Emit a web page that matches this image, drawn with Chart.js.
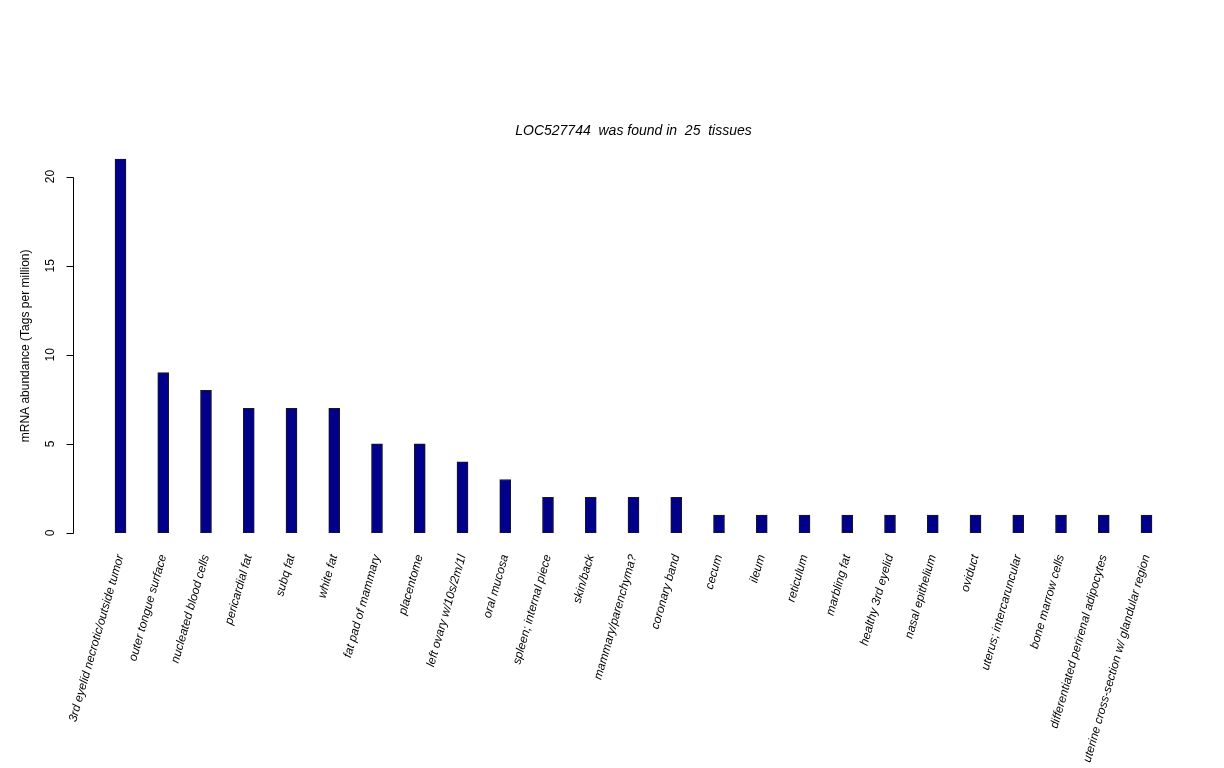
<!DOCTYPE html>
<html>
<head>
<meta charset="utf-8">
<script src="https://cdn.jsdelivr.net/npm/chart.js@4/dist/chart.umd.min.js"></script>
<style>
  html, body { margin: 0; padding: 0; background: #ffffff; }
  #wrap { width: 1224px; height: 768px; }
</style>
</head>
<body>
<div id="wrap"><canvas id="c" width="1224" height="768"></canvas></div>
<script>
// Tissues and tag counts for LOC527744
const tissues = [
  "3rd eyelid necrotic/outside tumor",
  "outer tongue surface",
  "nucleated blood cells",
  "pericardial fat",
  "subq fat",
  "white fat",
  "fat pad of mammary",
  "placentome",
  "left ovary w/10s/2m/1l",
  "oral mucosa",
  "spleen; internal piece",
  "skin/back",
  "mammary/parenchyma?",
  "coronary band",
  "cecum",
  "ileum",
  "reticulum",
  "marbling fat",
  "healthy 3rd eyelid",
  "nasal epithelium",
  "oviduct",
  "uterus; intercaruncular",
  "bone marrow cells",
  "differentiated perirenal adipocytes",
  "uterine cross-section w/ glandular region"
];
const abundance = [21, 9, 8, 7, 7, 7, 5, 5, 4, 3, 2, 2, 2, 2, 1, 1, 1, 1, 1, 1, 1, 1, 1, 1, 1];
const yTickValues = [0, 5, 10, 15, 20];
const titleText = "LOC527744  was found in  25  tissues";
const yTitle = "mRNA abundance (Tags per million)";

const FONT = "'Liberation Sans', Arial, Helvetica, sans-serif";

// Classic left axis: line spanning the labelled ticks, outward ticks,
// rotated numbers and the rotated axis title
const leftAxis = {
  id: 'leftAxis',
  afterDraw(chart) {
    const y = chart.scales.y;
    const ctx = chart.ctx;
    const area = chart.chartArea;
    const x0 = area.left;
    ctx.save();
    ctx.strokeStyle = '#000';
    ctx.lineWidth = 1;
    ctx.beginPath();
    const yTop = Math.round(y.getPixelForValue(yTickValues[yTickValues.length - 1])) + 0.5;
    const yBot = Math.round(y.getPixelForValue(yTickValues[0])) + 0.5;
    ctx.moveTo(x0 + 0.5, yTop);
    ctx.lineTo(x0 + 0.5, yBot);
    yTickValues.forEach(v => {
      const py = Math.round(y.getPixelForValue(v)) + 0.5;
      ctx.moveTo(x0 + 0.5, py);
      ctx.lineTo(x0 - 6.5, py);
    });
    ctx.stroke();
    ctx.fillStyle = '#000';
    ctx.font = '12px ' + FONT;
    ctx.textAlign = 'center';
    ctx.textBaseline = 'middle';
    yTickValues.forEach(v => {
      const py = y.getPixelForValue(v);
      ctx.save();
      ctx.translate(x0 - 22, py);
      ctx.rotate(-Math.PI / 2);
      ctx.fillText(String(v), 0, 0);
      ctx.restore();
    });
    ctx.save();
    ctx.translate(26, (area.top + area.bottom) / 2);
    ctx.rotate(-Math.PI / 2);
    ctx.fillText(yTitle, 0, 0);
    ctx.restore();
    ctx.restore();
  }
};

const points = abundance.map((v, i) => ({ x: i, y: v }));

new Chart(document.getElementById('c'), {
  type: 'bar',
  data: {
    datasets: [{
      data: points,
      backgroundColor: '#00008B',
      borderColor: '#1a1a1a',
      borderWidth: 1,
      barThickness: 11,
      borderSkipped: false
    }]
  },
  options: {
    responsive: false,
    animation: false,
    devicePixelRatio: 1,
    layout: { padding: { left: 73, right: 30, top: 116, bottom: 0 } },
    plugins: {
      legend: { display: false },
      tooltip: { enabled: false },
      title: {
        display: true,
        text: titleText,
        color: '#000',
        font: { family: FONT, size: 14, style: 'italic', weight: 'normal' },
        padding: { top: 7, bottom: 19 }
      }
    },
    scales: {
      x: {
        type: 'linear',
        offset: false,
        min: -1.111,
        max: 25.111,
        grid: { display: false, drawTicks: false },
        border: { display: false },
        afterBuildTicks(scale) {
          scale.ticks = tissues.map((_, i) => ({ value: i }));
        },
        afterFit(scale) { scale.height = 235; },
        ticks: {
          autoSkip: false,
          minRotation: 74,
          maxRotation: 74,
          padding: 20,
          color: '#000',
          font: { family: FONT, size: 12, style: 'italic' },
          callback: (v) => tissues[v] !== undefined ? tissues[v] : ''
        }
      },
      y: {
        display: false,
        min: 0,
        max: 21
      }
    }
  },
  plugins: [leftAxis]
});
</script>
</body>
</html>
